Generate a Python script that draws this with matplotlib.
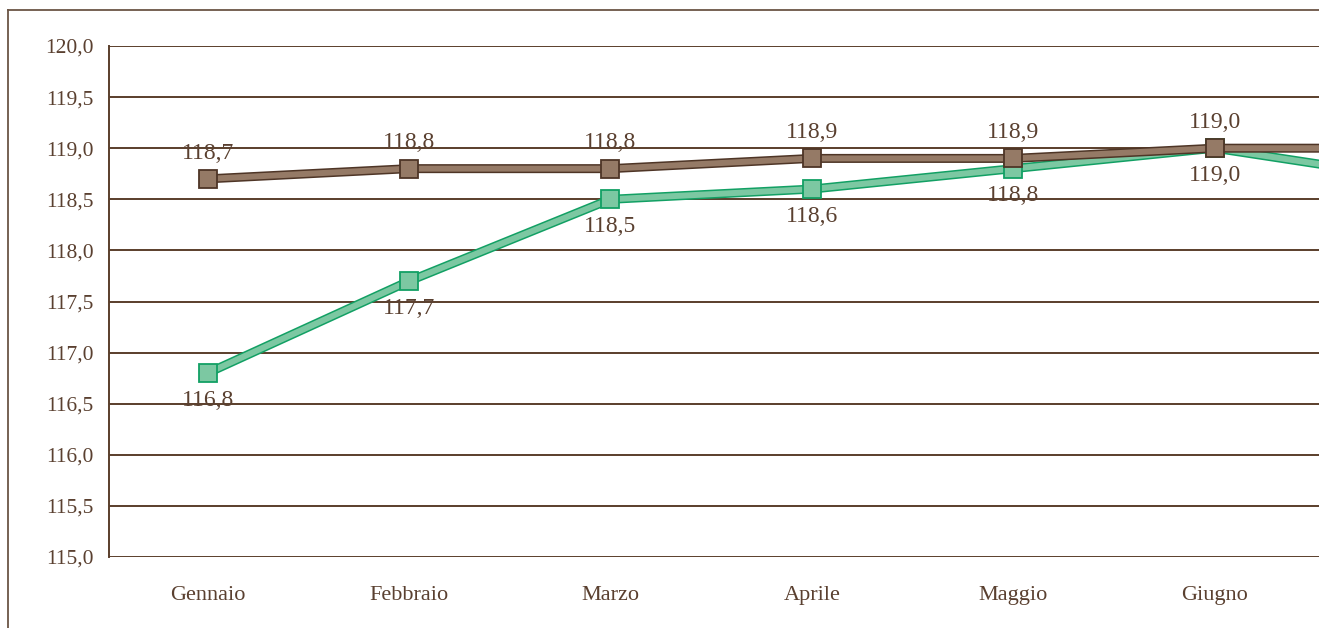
import matplotlib
matplotlib.use('Agg')
import matplotlib.pyplot as plt
from matplotlib.lines import Line2D

# data
months = ['Gennaio', 'Febbraio', 'Marzo', 'Aprile', 'Maggio', 'Giugno', 'Luglio']
brown_vals = [118.7, 118.8, 118.8, 118.9, 118.9, 119.0, 119.0]
green_vals = [116.8, 117.7, 118.5, 118.6, 118.8, 119.0, 118.7]
yticks = [115.0, 115.5, 116.0, 116.5, 117.0, 117.5, 118.0, 118.5, 119.0, 119.5, 120.0]

text_col = '#5a4030'
grid_col = '#5a3e2b'
brown_fill, brown_edge = '#957a66', '#4e3526'
green_fill, green_edge = '#7cc8a2', '#12a064'

plt.rcParams['font.family'] = ['Liberation Serif', 'DejaVu Serif']

fig = plt.figure(figsize=(13.19, 6.28), dpi=100)
ax = fig.add_axes([109 / 1319, 1 - 557 / 628, 1 - 109 / 1319, (557 - 46) / 628])

x = list(range(len(months)))

def fmt(v):
    return f'{v:.1f}'.replace('.', ',')

def draw_series(vals, fill, edge, z):
    ax.plot(x, vals, color=edge, lw=6.5, solid_capstyle='butt', zorder=z)
    ax.plot(x, vals, color=fill, lw=4.3, solid_capstyle='butt', zorder=z + 0.1)
    ax.plot(x, vals, ls='none', marker='s', ms=12.5, mfc=fill, mec=edge, mew=1.3, zorder=z + 0.2)

draw_series(green_vals, green_fill, green_edge, 3)
draw_series(brown_vals, brown_fill, brown_edge, 4)

for i in range(len(months)):
    ax.annotate(fmt(brown_vals[i]), (x[i], brown_vals[i]),
                xytext=(0, 11), textcoords='offset points', ha='center', va='bottom',
                fontsize=17, color=text_col, zorder=6, annotation_clip=True)
    ax.annotate(fmt(green_vals[i]), (x[i], green_vals[i]),
                xytext=(0, -12), textcoords='offset points', ha='center', va='top',
                fontsize=17, color=text_col, zorder=6, annotation_clip=True)

ax.set_ylim(115, 120)
ax.set_yticks(yticks)
ax.set_yticklabels([fmt(v) for v in yticks])
ax.set_xticks(x)
ax.set_xticklabels(months)
ax.set_xlim(-0.49, -0.49 + 1210 / 201.4)
ax.tick_params(axis='y', length=0, labelsize=15.5, labelcolor=text_col, pad=11)
ax.tick_params(axis='x', length=0, labelsize=16, labelcolor=text_col, pad=21)

ax.grid(axis='y', color=grid_col, lw=1.4)
ax.set_axisbelow(True)
for s in ['top', 'right', 'bottom']:
    ax.spines[s].set_visible(False)
ax.spines['left'].set_color(grid_col)
ax.spines['left'].set_linewidth(1.4)

# outer frame (top and left)
fig.add_artist(Line2D([8 / 1319, 1], [1 - 10 / 628, 1 - 10 / 628], color='#6b5545', lw=1.3))
fig.add_artist(Line2D([8 / 1319, 8 / 1319], [0, 1 - 10 / 628], color='#6b5545', lw=1.3))

fig.savefig('out.png', dpi=100)
